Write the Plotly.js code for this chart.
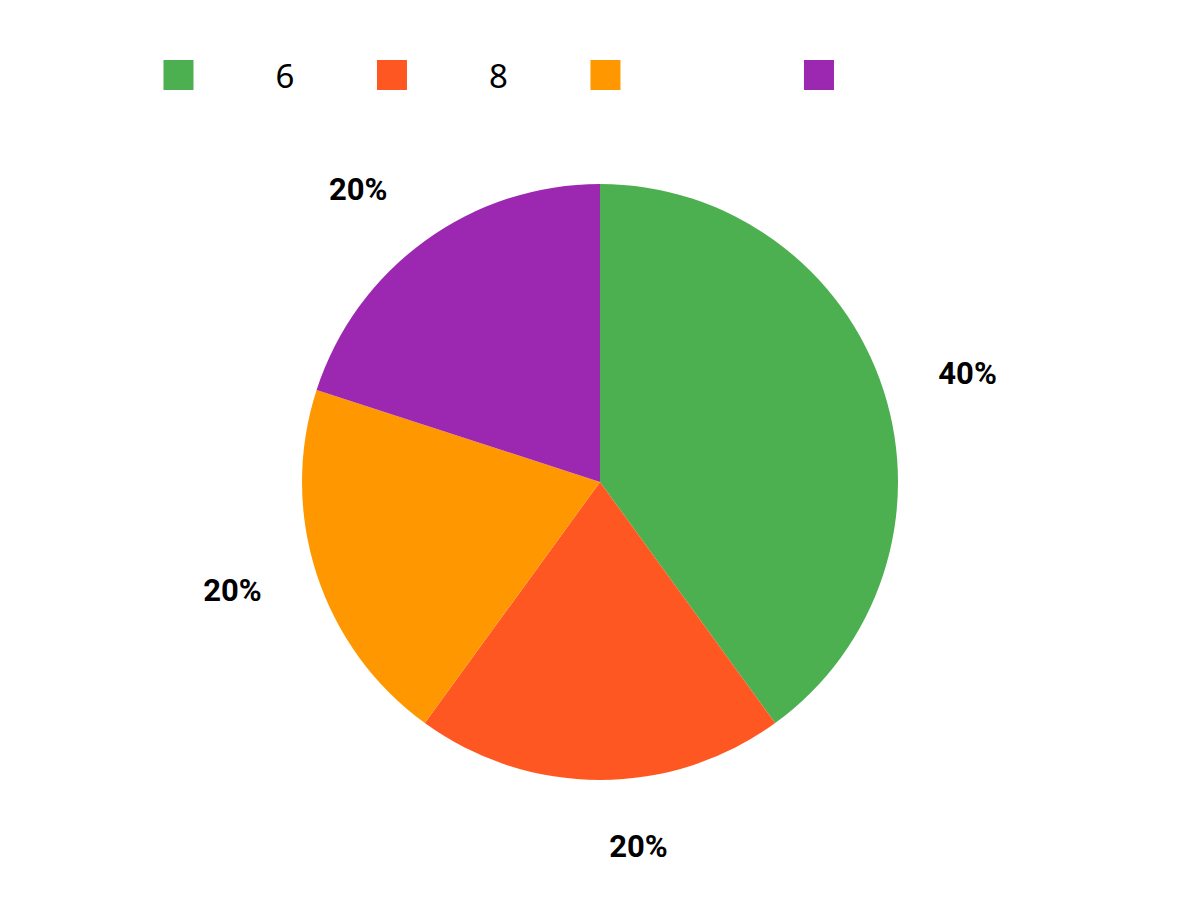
<!DOCTYPE html>
<html>
<head>
<meta charset="utf-8">
<script src="https://cdn.plot.ly/plotly-3.0.1.min.js"></script>
<style>
  body { margin: 0; background: #fff; }
  #chart { width: 1200px; height: 900px; }
</style>
</head>
<body>
<div id="chart"></div>
<script>
// slice data
let labels = ["6", "8", " ", "  "];
let values = [2, 1, 1, 1];
let colors = ["#4CAF50", "#FF5722", "#FF9800", "#9C27B0"];

function display() {
    let root = document.getElementById("chart");

    // the visible pie, no text on it
    let pie = {
        type: "pie",
        labels: labels,
        values: values,
        sort: false,
        direction: "clockwise",
        rotation: 0,
        textinfo: "none",
        hoverinfo: "skip",
        marker: {colors: colors, line: {width: 0}},
        domain: {x: [302 / 1200, 898 / 1200], y: [120 / 900, 716 / 900]}
    };

    // a larger, see-through pie that only carries the outside percent labels
    let textPie = {
        type: "pie",
        labels: labels,
        values: values,
        sort: false,
        direction: "clockwise",
        rotation: 0,
        textinfo: "percent",
        textposition: "outside",
        hoverinfo: "skip",
        showlegend: false,
        outsidetextfont: {family: "Roboto", size: 31, color: "#000", weight: "bold"},
        marker: {colors: ["rgba(0,0,0,0)", "rgba(0,0,0,0)", "rgba(0,0,0,0)", "rgba(0,0,0,0)"], line: {width: 0}},
        domain: {x: [254 / 1200, 946 / 1200], y: [72 / 900, 764 / 900]}
    };

    let layout = {
        width: 1200,
        height: 900,
        margin: {l: 0, r: 0, t: 0, b: 0},
        paper_bgcolor: "#fff",
        showlegend: true,
        legend: {
            orientation: "h",
            x: 0.0679,
            xanchor: "left",
            y: 0.9167,
            yanchor: "middle",
            itemwidth: 184,
            entrywidth: 14.5,
            font: {family: "Noto Sans", size: 33, color: "#000"},
            traceorder: "normal"
        }
    };

    let config = {displayModeBar: false, staticPlot: true};

    Plotly.newPlot(root, [pie, textPie], layout, config).then(function () {
        // enlarge the legend swatches to 30px squares
        document.querySelectorAll("path.legendpie").forEach(function (p) {
            p.setAttribute("transform", (p.getAttribute("transform") || "") + " scale(2.5)");
        });
    });
}

display();
</script>
</body>
</html>
